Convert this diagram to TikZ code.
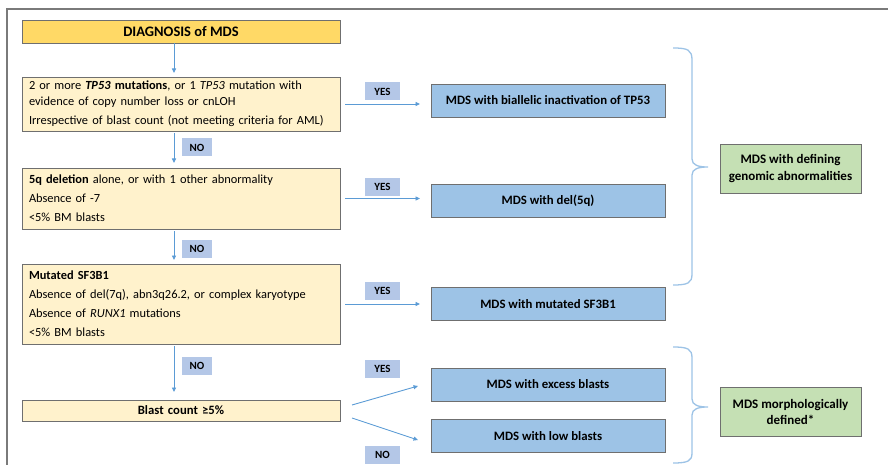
\documentclass[tikz,border=0pt]{standalone}
\usepackage{fontspec}
\setmainfont{Carlito}
\usetikzlibrary{calc,arrows.meta}
\definecolor{gold}{HTML}{FFD966}
\definecolor{cream}{HTML}{FFF2CC}
\definecolor{bluebox}{HTML}{9DC3E6}
\definecolor{lblc}{HTML}{B4C7E7}
\definecolor{greenbox}{HTML}{C5E0B4}
\definecolor{arrowc}{HTML}{5B9BD5}
\definecolor{bracec}{HTML}{9DC3E6}
\definecolor{edgec}{HTML}{6F6F6F}
\definecolor{framec}{HTML}{7A7A7A}
\begin{document}
\begin{tikzpicture}[x=1pt,y=-1pt,
  boxbase/.style={draw=edgec, line width=0.9pt, inner sep=0pt, outer sep=0pt},
  dbox/.style={boxbase, fill=gold, minimum width=318pt, minimum height=23pt, font=\fontsize{14.5}{16}\selectfont\bfseries},
  qbox/.style={boxbase, fill=cream, minimum width=318pt, text width=304pt, align=left},
  rbox/.style={boxbase, fill=bluebox, minimum width=234pt, minimum height=33pt, font=\fontsize{12.8}{15}\selectfont\bfseries},
  gbox/.style={boxbase, fill=greenbox, minimum width=141pt, minimum height=49pt, align=center, font=\fontsize{13}{16.5}\selectfont\bfseries},
  lab/.style={fill=lblc, inner sep=0pt, minimum height=18pt, font=\fontsize{11}{12}\selectfont\bfseries},
  yeslab/.style={lab, minimum width=35pt},
  nolab/.style={lab, minimum width=30pt},
  arr/.style={draw=arrowc, line width=0.9pt, -{Triangle[length=4.5pt,width=4pt]}},
  bracestyle/.style={draw=bracec, line width=1.3pt},
  framestyle/.style={draw=framec, line width=2pt}
]
\useasboundingbox (0,0) rectangle (888,465);

% frame
\coordinate (fr0) at (888,9);
\coordinate (fr1) at (7,9);
\coordinate (fr2) at (7,465);
\draw[framestyle] (fr0) -- (fr1) -- (fr2);

% left column
\node[dbox] (diag) at (181,31.5) {DIAGNOSIS of MDS};
\node[qbox, minimum height=54pt, font=\fontsize{12.4}{16}\selectfont] (q1) at (181,104)
  {2 or more \textbf{\textit{TP53} mutations}, or 1 \textit{TP53} mutation with\\
   evidence of copy number loss or cnLOH\\[3pt]
   Irrespective of blast count (not meeting criteria for AML)};
\node[qbox, minimum height=61pt, font=\fontsize{12.4}{19}\selectfont] (q2) at (181,198.5)
  {\textbf{5q deletion} alone, or with 1 other abnormality\\
   Absence of -7\\
   <5\% BM blasts};
\node[qbox, minimum height=80pt, font=\fontsize{12.4}{19}\selectfont] (q3) at (181,304)
  {\textbf{Mutated SF3B1}\\
   Absence of del(7q), abn3q26.2, or complex karyotype\\
   Absence of \textit{RUNX1} mutations\\
   <5\% BM blasts};
\node[qbox, minimum height=21pt, align=center, font=\fontsize{12.7}{14}\selectfont\bfseries] (q4) at (181,410.5)
  {Blast count ≥5\%};

% middle column
\node[rbox] (ra) at (548,100.5) {MDS with biallelic inactivation of TP53};
\node[rbox] (rb) at (548,200.5) {MDS with del(5q)};
\node[rbox] (rc) at (548,304) {MDS with mutated SF3B1};
\node[rbox] (rd) at (548,384.5) {MDS with excess blasts};
\node[rbox] (re) at (548,436) {MDS with low blasts};

% right column
\node[gbox] (g1) at (790.5,168.5) {MDS with defining\\genomic abnormalities};
\node[gbox] (g2) at (790.5,412) {MDS morphologically\\defined*};

% vertical arrows
\draw[arr] ([xshift=-7pt]diag.south) -- ([xshift=-7pt,yshift=4pt]q1.north);
\draw[arr] ([xshift=-7pt,yshift=-2pt]q1.south) -- ([xshift=-7pt,yshift=5pt]q2.north);
\draw[arr] ([xshift=-7pt,yshift=-2pt]q2.south) -- ([xshift=-7pt,yshift=4pt]q3.north);
\draw[arr] ([xshift=-7pt,yshift=-2pt]q3.south) -- ([xshift=-7pt,yshift=8pt]q4.north);

% horizontal arrows
\draw[arr] ([xshift=5pt]q1.east) -- ([xshift=-11pt]q1.east -| ra.west);
\draw[arr] ([xshift=5pt]q2.east) -- ([xshift=-11pt]q2.east -| rb.west);
\draw[arr] ([xshift=5pt]q3.east) -- ([xshift=-11pt]q3.east -| rc.west);
\draw[arr] ($(q4.east)+(12,-5.5)$) -- ($(rd.west)+(-13,1.5)$);
\draw[arr] ($(q4.east)+(12,7.5)$) -- ($(re.west)+(-13,4)$);

% labels
\node[nolab] (no1) at (197,147.5) {NO};
\node[nolab] (no2) at (197,248.5) {NO};
\node[nolab] (no3) at (197,366) {NO};
\node[yeslab] (yes1) at (382.5,91.5) {YES};
\node[yeslab] (yes2) at (382.5,187) {YES};
\node[yeslab] (yes3) at (382.5,291) {YES};
\node[yeslab] (yes4) at (382.5,368.5) {YES};
\node[yeslab] (no4) at (382.5,455) {NO};

% braces
\coordinate (b1t) at (673,48);
\coordinate (b1m) at (708,167);
\coordinate (b1b) at (673,285);
\draw[bracestyle] (b1t) .. controls (688,48) and (692,50) .. (692,60) -- (692,159)
  .. controls (692,165) and (698,167) .. (b1m)
  .. controls (698,167) and (692,169) .. (692,175) -- (692,274)
  .. controls (692,283) and (688,285) .. (b1b);
\coordinate (b2t) at (673,347);
\coordinate (b2m) at (708,407);
\coordinate (b2b) at (673,463);
\draw[bracestyle] (b2t) .. controls (688,347) and (692,349) .. (692,358) -- (692,399)
  .. controls (692,405) and (698,407) .. (b2m)
  .. controls (698,407) and (692,409) .. (692,415) -- (692,453)
  .. controls (692,461) and (688,463) .. (b2b);
\end{tikzpicture}
\end{document}
